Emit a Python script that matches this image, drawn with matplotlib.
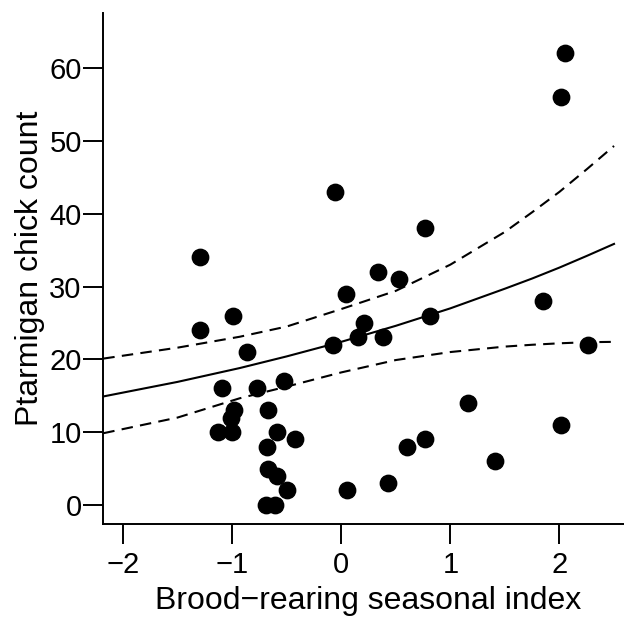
import matplotlib
matplotlib.use("Agg")
import matplotlib.pyplot as plt

plt.rcParams['font.family'] = ['Liberation Sans', 'DejaVu Sans']

# observed brood counts vs seasonal index
season_idx = [-1.29, -1.29, -0.99, -0.86, -1.09, -0.77, -0.52, -0.98, -1.01, -1.13,
              -1.00, -0.67, -0.59, -0.42, -0.68, -0.67, -0.59, -0.50, -0.69, -0.61,
              -0.06, -0.075, 0.04, 0.15, 0.21, 0.34, 0.53, 0.38, 0.77, 0.81,
              1.85, 2.05, 2.01, 2.26, 1.16, 2.01, 0.77, 0.60, 1.41, 0.43, 0.05]
chick_count = [34, 24, 26, 21, 16, 16, 17, 13, 12, 10,
               10, 13, 10, 9, 8, 5, 4, 2, 0, 0,
               43, 22, 29, 23, 25, 32, 31, 23, 38, 26,
               28, 62, 56, 22, 14, 11, 9, 8, 6, 3, 2]

# fitted curve and 95% band
fit_x = [-2.18, -1.5, -0.93, -0.5, 0.0, 0.5, 1.0, 1.5, 1.75, 2.0, 2.25, 2.5]
fit_mid = [14.9, 16.9, 18.8, 20.4, 22.4, 24.6, 27.0, 29.7, 31.1, 32.6, 34.2, 35.85]
fit_hi = [20.1, 21.6, 23.1, 24.5, 26.9, 29.4, 33.0, 37.5, 40.2, 43.0, 46.1, 49.3]
fit_lo = [9.85, 12.0, 14.65, 16.25, 18.2, 19.9, 21.0, 21.75, 22.0, 22.2, 22.35, 22.4]

xticks = [-2, -1, 0, 1, 2]
yticks = [0, 10, 20, 30, 40, 50, 60]

fig = plt.figure(figsize=(6.24, 6.17), dpi=100)
ax = fig.add_axes([0.1655, 0.1509, 0.85, 0.8285])

ax.plot(season_idx, chick_count, 'o', color='black', markersize=11.8, clip_on=False)
ax.plot(fit_x, fit_mid, color='black', lw=1.5)
ax.plot(fit_x, fit_hi, color='black', lw=1.5, linestyle=(0, (5.5, 3.5)))
ax.plot(fit_x, fit_lo, color='black', lw=1.5, linestyle=(0, (5.5, 3.5)))

ax.set_xlim(-2.18, 2.68)
ax.set_ylim(-2.6, 67.6)
ax.set_xticks(xticks)
ax.set_yticks(yticks)
ax.set_xticklabels(['\u22122', '\u22121', '0', '1', '2'])

for s in ['top', 'right']:
    ax.spines[s].set_visible(False)
for s in ['left', 'bottom']:
    ax.spines[s].set_linewidth(1.4)

ax.tick_params(axis='both', direction='out', length=14.5, width=1.4, labelsize=21)
ax.tick_params(axis='y', pad=1)
ax.tick_params(axis='x', pad=5)

ax.set_xlabel('Brood\u2212rearing seasonal index', fontsize=23)
ax.set_ylabel('Ptarmigan chick count', fontsize=23)
ax.xaxis.set_label_coords(0.5, -0.122)
ax.yaxis.set_label_coords(-0.110, 0.5)

fig.savefig('out.png', dpi=100)
